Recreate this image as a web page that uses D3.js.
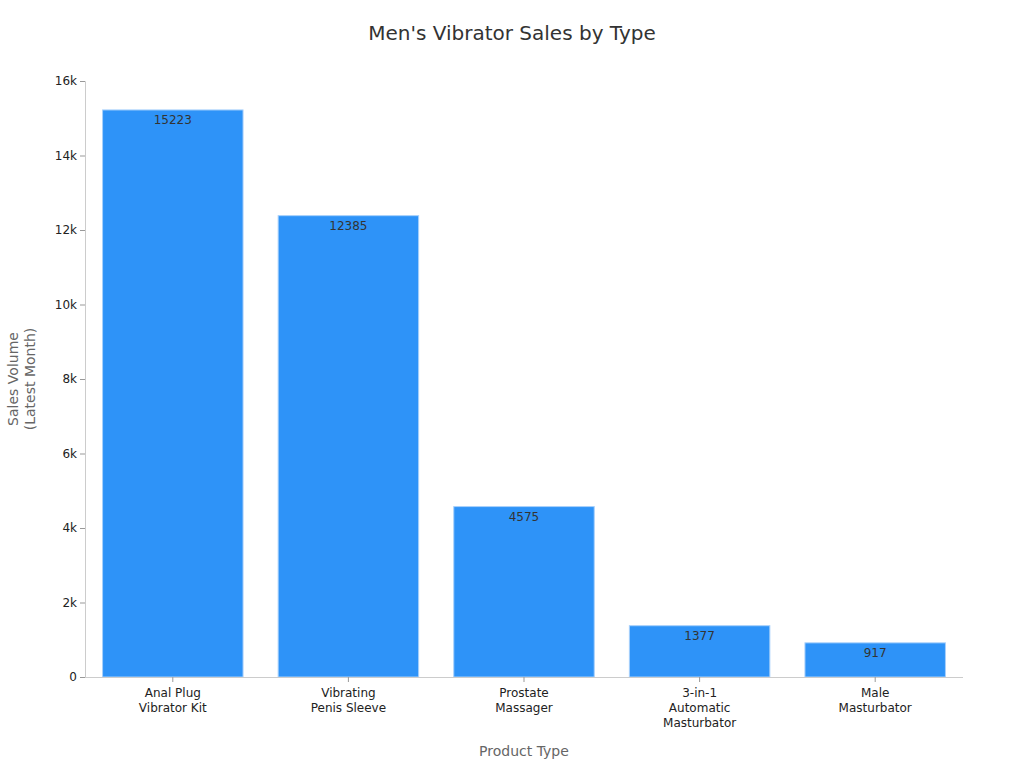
<!DOCTYPE html>
<html><head><meta charset="utf-8">
<script src="https://cdn.jsdelivr.net/npm/d3@7"></script>
<style>body{margin:0;background:#fff;font-family:"DejaVu Sans",sans-serif;}</style>
</head><body><svg id="c" width="1024" height="768"></svg>
<script>
const categories = [["Anal Plug","Vibrator Kit"],["Vibrating","Penis Sleeve"],["Prostate","Massager"],["3-in-1","Automatic","Masturbator"],["Male","Masturbator"]];
const values = [15223, 12385, 4575, 1377, 917];
const yTicks = [0,2000,4000,6000,8000,10000,12000,14000,16000];

const svg = d3.select("#c");
const m = {l:85, r:963, t:81, b:677};
const x = d3.scaleBand().domain(d3.range(values.length)).range([m.l, m.r]).paddingInner(0.2).paddingOuter(0.1);
const y = d3.scaleLinear().domain([0,16000]).range([m.b, m.t]);

svg.append("text").attr("x",512).attr("y",40).attr("text-anchor","middle")
  .attr("font-size",20).attr("fill","#333").text("Men's Vibrator Sales by Type");

svg.selectAll("rect.bar").data(values).enter().append("rect")
  .attr("x",(d,i)=>x(i)).attr("width",x.bandwidth())
  .attr("y",d=>y(d)).attr("height",d=>y(0)-y(d))
  .attr("fill","#2e93f8").attr("stroke","#a8d0fb").attr("stroke-width",1);

svg.selectAll("text.val").data(values).enter().append("text")
  .attr("x",(d,i)=>x(i)+x.bandwidth()/2).attr("y",d=>y(d)+14)
  .attr("text-anchor","middle").attr("font-size",12).attr("fill","#333").text(d=>d);

const ya = svg.append("g").attr("transform",`translate(${m.l},0)`)
  .call(d3.axisLeft(y).tickValues(yTicks).tickSize(5).tickFormat(d=>d===0?"0":(d/1000)+"k"));
ya.select(".domain").attr("stroke","#ccc");
ya.selectAll(".tick line").attr("stroke","#999");
ya.selectAll("text").attr("font-size",12).attr("fill","#222").attr("font-family","DejaVu Sans");

const xa = svg.append("g").attr("transform",`translate(0,${m.b})`)
  .call(d3.axisBottom(x).tickSize(5).tickFormat(""));
xa.select(".domain").attr("stroke","#ccc").attr("d",`M${m.l},0.5H${m.r}`);
xa.selectAll(".tick line").attr("stroke","#999");
xa.selectAll(".tick").each(function(d){
  const t = d3.select(this).append("text").attr("fill","#222").attr("font-size",12)
    .attr("text-anchor","middle").attr("font-family","DejaVu Sans");
  categories[d].forEach((s,k)=>t.append("tspan").attr("x",0).attr("y",20+k*15).text(s));
});

svg.append("text").attr("x",(m.l+m.r)/2).attr("y",756).attr("text-anchor","middle")
  .attr("font-size",14).attr("fill","#666").text("Product Type");
const yt = svg.append("text").attr("transform","translate(0,379) rotate(-90)")
  .attr("text-anchor","middle").attr("font-size",14).attr("fill","#666");
yt.append("tspan").attr("x",0).attr("y",18).text("Sales Volume");
yt.append("tspan").attr("x",0).attr("y",35).text("(Latest Month)");
</script></body></html>
